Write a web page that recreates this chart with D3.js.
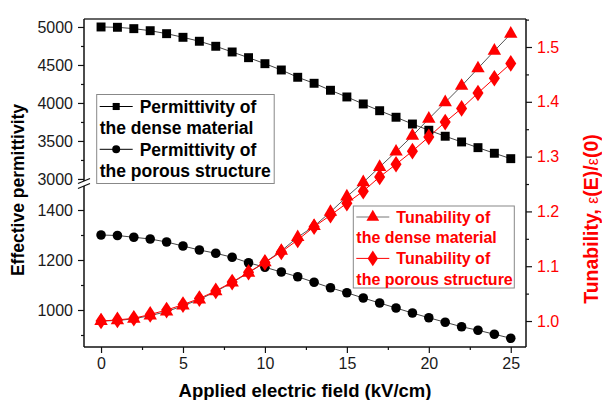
<!DOCTYPE html>
<html>
<head>
<meta charset="utf-8">
<script src="https://cdn.jsdelivr.net/npm/d3@7"></script>
<style>
  html, body { margin: 0; padding: 0; background: #fff; }
  svg { display: block; font-family: "Liberation Sans", Arial, sans-serif; }
</style>
</head>
<body>
<svg id="chart" width="602" height="400"></svg>
<script>
// Applied field, kV/cm
const field = d3.range(0, 26);

// Effective permittivity of the dense material (upper left scale)
const permDense = [5000, 4996, 4978, 4951, 4912, 4864, 4812, 4746, 4671, 4596,
  4517, 4434, 4338, 4259, 4167, 4079, 3987, 3898, 3812, 3723,
  3641, 3562, 3487, 3412, 3338, 3267];

// Effective permittivity of the porous structure (lower left scale)
const permPorous = [1300, 1298, 1291, 1284, 1272, 1256, 1240, 1227, 1211, 1189,
  1171, 1152, 1133, 1111, 1089, 1069, 1048, 1028, 1008, 988,
  969, 951, 933, 919, 903, 887];

// Tunability ε(E)/ε(0) (right scale)
const tunDense = [1.000, 1.001, 1.004, 1.010, 1.017, 1.028, 1.039, 1.054, 1.070, 1.088,
  1.107, 1.128, 1.153, 1.173, 1.199, 1.227, 1.253, 1.281, 1.309, 1.338,
  1.369, 1.399, 1.429, 1.461, 1.493, 1.524];
const tunPorous = [1.000, 1.002, 1.005, 1.012, 1.020, 1.030, 1.041, 1.055, 1.071, 1.089,
  1.107, 1.126, 1.148, 1.172, 1.193, 1.215, 1.237, 1.263, 1.286, 1.310,
  1.336, 1.363, 1.388, 1.416, 1.443, 1.470];

// Tick values
const xMajor = [0, 5, 10, 15, 20, 25];
const xMinor = [2.5, 7.5, 12.5, 17.5, 22.5];
const yUpMajor = [3000, 3500, 4000, 4500, 5000];
const yUpMinor = [3250, 3750, 4250, 4750];
const yLowMajor = [1000, 1200, 1400];
const yLowMinor = [900, 1100, 1300];
const yRMajor = [1.0, 1.1, 1.2, 1.3, 1.4, 1.5];
const yRMinor = [1.05, 1.15, 1.25, 1.35, 1.45, 1.55];

const svg = d3.select("#chart");
const L = 84, R = 526, T = 19, B = 347;
const breakTop = 181, breakBot = 186;

const x = d3.scaleLinear().domain([-1.04, 25.93]).range([L, R]);
const yUp = d3.scaleLinear().domain([2973, 5105]).range([breakTop, T]);
const yLow = d3.scaleLinear().domain([852, 1496]).range([B, breakBot]);
const yR = d3.scaleLinear().domain([0.9526, 1.5511]).range([B, T]);

const RED = "#ff0000";
const TXT = "#1a1a1a";

// top frame line
svg.append("line").attr("x1", L).attr("x2", R).attr("y1", T).attr("y2", T)
  .attr("stroke", "#333").attr("stroke-width", 1.3);

function styleAxis(g, color, textColor, size) {
  g.select(".domain").remove();
  g.selectAll(".tick line").attr("stroke", color).attr("stroke-width", 1.2);
  g.selectAll(".tick text").attr("fill", textColor)
    .style("font-size", size + "px").style("font-family", '"Liberation Sans", Arial, sans-serif');
}
function minor(g, axis) {
  g.append("g").call(axis.tickSize(3).tickFormat(""))
    .call(h => { h.select(".domain").remove(); h.selectAll("line").attr("stroke", "#111").attr("stroke-width", 1.2); });
}

// x axis
const gx = svg.append("g").attr("transform", `translate(0,${B})`);
gx.call(d3.axisBottom(x).tickValues(xMajor).tickSize(6).tickPadding(5).tickFormat(d3.format("d")));
styleAxis(gx, "#111", TXT, 16);
minor(gx, d3.axisBottom(x).tickValues(xMinor));
svg.append("line").attr("x1", L).attr("x2", R).attr("y1", B).attr("y2", B)
  .attr("stroke", "#111").attr("stroke-width", 1.5);

// left upper axis
const gu = svg.append("g").attr("transform", `translate(${L},0)`);
gu.call(d3.axisLeft(yUp).tickValues(yUpMajor).tickSize(6).tickPadding(5).tickFormat(d3.format("d")));
styleAxis(gu, "#111", TXT, 16);
minor(gu, d3.axisLeft(yUp).tickValues(yUpMinor));

// left lower axis
const gl = svg.append("g").attr("transform", `translate(${L},0)`);
gl.call(d3.axisLeft(yLow).tickValues(yLowMajor).tickSize(6).tickPadding(5).tickFormat(d3.format("d")));
styleAxis(gl, "#111", TXT, 16);
minor(gl, d3.axisLeft(yLow).tickValues(yLowMinor));

svg.append("line").attr("x1", L).attr("x2", L).attr("y1", T).attr("y2", breakTop)
  .attr("stroke", "#111").attr("stroke-width", 1.5);
svg.append("line").attr("x1", L).attr("x2", L).attr("y1", breakBot).attr("y2", B)
  .attr("stroke", "#111").attr("stroke-width", 1.5);
// axis break marks
[breakTop, breakBot].forEach(yy => {
  svg.append("line").attr("x1", L - 6).attr("x2", L + 6).attr("y1", yy + 2.5).attr("y2", yy - 2.5)
    .attr("stroke", "#111").attr("stroke-width", 1.3);
});

// right axis
const gr = svg.append("g").attr("transform", `translate(${R},0)`);
gr.call(d3.axisRight(yR).tickValues(yRMajor).tickSize(6).tickPadding(5).tickFormat(d3.format(".1f")));
styleAxis(gr, "#111", RED, 16);
minor(gr, d3.axisRight(yR).tickValues(yRMinor));
svg.append("line").attr("x1", R).attr("x2", R).attr("y1", T).attr("y2", B)
  .attr("stroke", "#111").attr("stroke-width", 1.5);

// series
const series = [
  { vals: permDense, y: yUp, line: "#444", sym: d3.symbolSquare, size: 80, fill: "#000" },
  { vals: permPorous, y: yLow, line: "#444", sym: d3.symbolCircle, size: 72, fill: "#000" },
  { vals: tunDense, y: yR, line: "#555", sym: d3.symbolTriangle, size: 78, fill: RED },
  { vals: tunPorous, y: yR, line: RED, sym: d3.symbolDiamond, size: 80, fill: RED, diamond: true },
];

series.forEach(s => {
  const line = d3.line().x((d, i) => x(field[i])).y(d => s.y(d));
  svg.append("path").datum(s.vals).attr("d", line)
    .attr("fill", "none").attr("stroke", s.line).attr("stroke-width", 1);
});
series.forEach(s => {
  svg.append("g").selectAll("path").data(s.vals).join("path")
    .attr("transform", (d, i) => `translate(${x(field[i])},${s.y(d)})` + (s.diamond ? " scale(1.15,1)" : ""))
    .attr("d", d3.symbol().type(s.sym).size(s.size))
    .attr("fill", s.fill);
});

// legends
function legend(x0, y0, w, h, color, items, pitch, fs, first) {
  const g = svg.append("g");
  g.append("rect").attr("x", x0).attr("y", y0).attr("width", w).attr("height", h)
    .attr("fill", "#fff").attr("stroke", "#888").attr("stroke-width", 1);
  items.forEach((it, k) => {
    const cy = y0 + first + k * 2 * pitch;
    g.append("line").attr("x1", x0 + 3).attr("x2", x0 + 36).attr("y1", cy).attr("y2", cy)
      .attr("stroke", it.lineCol).attr("stroke-width", 1);
    g.append("path").attr("transform", `translate(${x0 + 19.5},${cy})` + (it.diamond ? " scale(1.15,1)" : ""))
      .attr("d", d3.symbol().type(it.sym).size(it.size)).attr("fill", it.fill);
    g.append("text").attr("x", x0 + 43).attr("y", cy).attr("dy", "0.36em")
      .attr("fill", color).style("font-weight", "bold").style("font-size", fs + "px").text(it.l1);
    g.append("text").attr("x", x0 + 3).attr("y", cy + pitch).attr("dy", "0.36em")
      .attr("fill", color).style("font-weight", "bold").style("font-size", fs + "px").text(it.l2);
  });
}
legend(96.7, 94.5, 177.5, 89, "#000", [
  { sym: d3.symbolSquare, size: 50, fill: "#000", lineCol: "#000", l1: "Permittivity of", l2: "the dense material" },
  { sym: d3.symbolCircle, size: 50, fill: "#000", lineCol: "#000", l1: "Permittivity of", l2: "the porous structure" },
], 21.4, 17.5, 12);
legend(353.3, 206, 161, 82, RED, [
  { sym: d3.symbolTriangle, size: 70, fill: RED, lineCol: "#777", l1: "Tunability of", l2: "the dense material" },
  { sym: d3.symbolDiamond, size: 70, fill: RED, lineCol: RED, diamond: true, l1: "Tunability of", l2: "the porous structure" },
], 20.7, 16, 11);

// axis titles
svg.append("text").attr("x", 305).attr("y", 390).attr("text-anchor", "middle").attr("dy", "0.36em")
  .attr("fill", "#000").style("font-weight", "bold").style("font-size", "18.5px")
  .text("Applied electric field (kV/cm)");
svg.append("text").attr("transform", "translate(18,190) rotate(-90)").attr("text-anchor", "middle").attr("dy", "0.36em")
  .attr("fill", "#000").style("font-weight", "bold").style("font-size", "17.5px")
  .text("Effective permittivity");
const rt = svg.append("text").attr("transform", "translate(591,219) rotate(-90)").attr("text-anchor", "middle").attr("dy", "0.36em")
  .attr("fill", RED).style("font-weight", "bold").style("font-size", "19.5px");
rt.append("tspan").text("Tunability, ");
rt.append("tspan").style("font-weight", "normal").style("font-size", "16px").text("ε");
rt.append("tspan").text("(E)/");
rt.append("tspan").style("font-weight", "normal").style("font-size", "16px").text("ε");
rt.append("tspan").text("(0)");
</script>
</body>
</html>
